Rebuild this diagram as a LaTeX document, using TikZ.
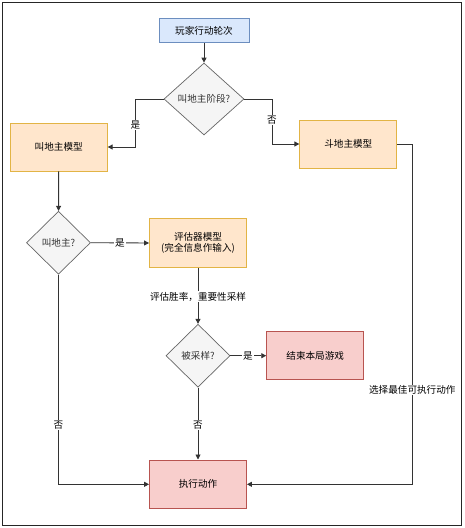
\documentclass[tikz,border=0pt]{standalone}
\usepackage{fontspec}
\setmainfont{Noto Sans CJK SC}
\usetikzlibrary{shapes.geometric,arrows.meta}
\definecolor{bluefill}{HTML}{DAE8FC}
\definecolor{bluedraw}{HTML}{6C8EBF}
\definecolor{orgfill}{HTML}{FFE6CC}
\definecolor{orgdraw}{HTML}{E2B445}
\definecolor{redfill}{HTML}{F8CECC}
\definecolor{reddraw}{HTML}{B85450}
\definecolor{decfill}{HTML}{F5F5F5}
\definecolor{decdraw}{HTML}{666666}
\definecolor{dectext}{HTML}{333333}
\definecolor{linec}{HTML}{333333}
\tikzset{
  txt/.style={font=\fontsize{9.6}{11.5}\selectfont},
  box/.style={draw, line width=0.9pt, minimum width=97pt, minimum height=48pt, inner sep=1pt, txt, align=center, text=black},
  startbox/.style={box, fill=bluefill, draw=bluedraw, minimum width=90pt, minimum height=24.5pt},
  modelbox/.style={box, fill=orgfill, draw=orgdraw},
  endbox/.style={box, fill=redfill, draw=reddraw},
  decision/.style={diamond, draw=decdraw, fill=decfill, line width=0.7pt, inner sep=0pt, aspect=1},
  dlabel/.style={txt, text=dectext},
  flow/.style={draw=linec, line width=0.9pt, -{Triangle[length=5pt,width=5pt]}},
  lbl/.style={fill=white, inner sep=1pt, txt, text=black}
}
\begin{document}
\begin{tikzpicture}[x=1pt,y=-1pt]
\useasboundingbox (0,0) rectangle (464,528);
\draw[line width=1pt, draw=black!85] (2.5,2.5) rectangle (461.5,525.5);

\node[startbox] (start) at (204,30.5) {玩家行动轮次};
\node[decision, minimum width=80pt, minimum height=72pt] (phase) at (204,99) {};
\node[dlabel] (phaset) at (204,99) {叫地主阶段?};
\node[modelbox] (callm) at (58.7,147) {叫地主模型};
\node[modelbox] (playm) at (348.3,144) {斗地主模型};
\node[decision, minimum width=64pt, minimum height=63pt] (callq) at (58.5,242.7) {};
\node[dlabel] (callqt) at (58.5,242.7) {叫地主?};
\node[modelbox, minimum height=48.7pt] (eval) at (198,243) {评估器模型\\(完全信息作输入)};
\node[decision, minimum width=64pt, minimum height=63pt] (sampq) at (198,355.7) {};
\node[dlabel] (sampqt) at (198,355.7) {被采样?};
\node[endbox] (endg) at (315.2,355.7) {结束本局游戏};
\node[endbox, minimum height=48.7pt] (act) at (198,484.3) {执行动作};

\coordinate (c1) at (135.3,99);
\coordinate (c2) at (135.3,147);
\coordinate (c3) at (272,99);
\coordinate (c4) at (272,144);
\coordinate (c5) at (412.3,144);
\coordinate (c6) at (412.3,484.3);
\coordinate (c7) at (58.5,484.3);

\draw[flow] (start) -- (phase);
\draw[flow] (phase.west) -- (c1) -- (c2) -- (callm.east);
\node[lbl] (l1) at (135.3,125) {是};
\draw[flow] (phase.east) -- (c3) -- (c4) -- (playm.west);
\node[lbl] (l2) at (272,120) {否};
\draw[flow] (callm) -- (callq);
\draw[flow] (callq.east) -- (eval.west);
\node[lbl] (l3) at (120,243) {是};
\draw[flow] (eval) -- (sampq);
\node[lbl] (l4) at (198,296.7) {评估胜率，重要性采样};
\draw[flow] (sampq.east) -- (endg.west);
\node[lbl] (l5) at (248,355.7) {是};
\draw[flow] (sampq) -- (act);
\node[lbl] (l6) at (198,425) {否};
\draw[flow] (callq.south) -- (c7) -- (act.west);
\node[lbl] (l7) at (58.5,425) {否};
\draw[flow] (playm.east) -- (c5) -- (c6) -- (act.east);
\node[lbl] (l8) at (412.3,390) {选择最佳可执行动作};
\end{tikzpicture}
\end{document}
